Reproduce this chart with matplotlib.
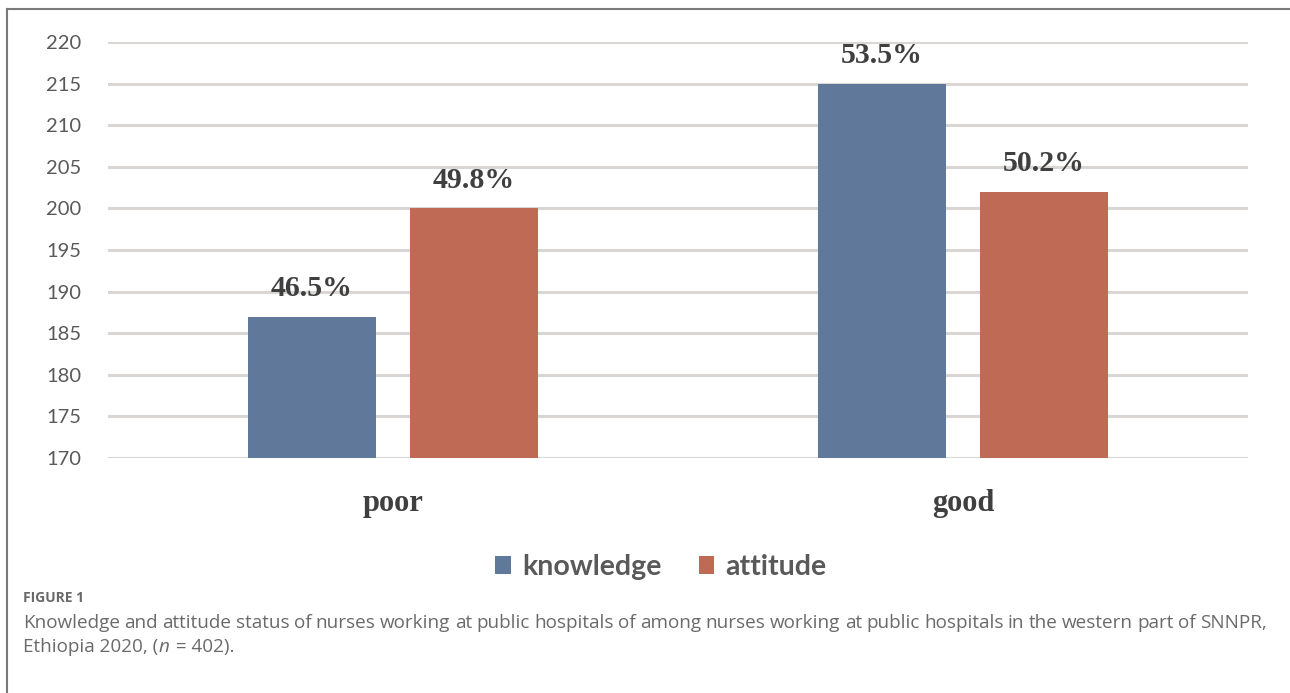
import matplotlib
matplotlib.use("Agg")
import matplotlib.pyplot as plt
from matplotlib.lines import Line2D
import numpy as np

categories = ["poor", "good"]
series_names = ["knowledge", "attitude"]
knowledge = [187, 215]
attitude = [200, 202]
knowledge_pct = ["46.5%", "53.5%"]
attitude_pct = ["49.8%", "50.2%"]
yticks = [170, 175, 180, 185, 190, 195, 200, 205, 210, 215, 220]

blue = "#60789A"
red = "#BE6A55"
grid_c = "#DAD6D3"
tick_c = "#595959"
lab_c = "#3F3F3F"

fig = plt.figure(figsize=(12.9, 6.93), dpi=100)
W, H = 1290, 693
ax = fig.add_axes([108 / W, 1 - 458 / H, 1140 / W, 416 / H])

x = np.arange(len(categories))
bw = 0.225
off = 0.142
ax.set_axisbelow(True)
b1 = ax.bar(x - off, [k - 170 for k in knowledge], bw, bottom=170, color=blue, label=series_names[0], zorder=3)
b2 = ax.bar(x + off, [a - 170 for a in attitude], bw, bottom=170, color=red, label=series_names[1], zorder=3)

ax.set_xlim(-0.5, 1.5)
ax.set_ylim(170, 220)
ax.set_yticks(yticks)
ax.yaxis.grid(True, color=grid_c, linewidth=2.2)
for s in ax.spines.values():
    s.set_visible(False)
ax.tick_params(axis="y", length=0, pad=19, labelsize=14.5, labelcolor=tick_c)
for t in ax.get_yticklabels():
    t.set_fontfamily("Lato")
ax.set_xticks(x)
ax.set_xticklabels(categories, fontfamily="Liberation Serif", fontweight="bold", fontsize=22, color=lab_c)
ax.tick_params(axis="x", length=0, pad=22)

for xs, vals, labs in [(x - off, knowledge, knowledge_pct), (x + off, attitude, attitude_pct)]:
    for xi, v, l in zip(xs, vals, labs):
        ax.annotate(l, (xi, v), xytext=(0, 28), textcoords="offset pixels", ha="center", va="center",
                    fontfamily="Liberation Serif", fontweight="bold", fontsize=21.5, color=lab_c, zorder=4)

leg = fig.legend(handles=[b1, b2], labels=series_names, loc="center", bbox_to_anchor=(661 / W, 1 - 567 / H),
                 ncol=2, frameon=False, handlelength=0.55, handleheight=0.55, handletextpad=0.4, columnspacing=1.3,
                 prop={"family": "Lato", "size": 20.5, "weight": "bold"})
for t in leg.get_texts():
    t.set_color(tick_c)

# border
fig.add_artist(Line2D([6.5 / W, 6.5 / W], [0, 1 - 9 / H], color="#7A7A7A", linewidth=1.5, transform=fig.transFigure))
fig.add_artist(Line2D([6.5 / W, 1], [1 - 9 / H, 1 - 9 / H], color="#7A7A7A", linewidth=1.5, transform=fig.transFigure))

cap_c = "#6A6A6A"
fig.text(23 / W, 1 - 598 / H, "FIGURE 1", fontfamily="Open Sans", fontweight="bold", fontsize=10, color=cap_c,
         va="center", ha="left")

cap_fs = 13.6
line1 = "Knowledge and attitude status of nurses working at public hospitals of among nurses working at public hospitals in the western part of SNNPR,"
words = line1.split(" ")
fig.canvas.draw()
renderer = fig.canvas.get_renderer()
txts = []
widths = []
for w in words:
    t = fig.text(0, 1 - 623 / H, w, fontfamily="Open Sans", fontsize=cap_fs, color=cap_c, va="center", ha="left")
    bb = t.get_window_extent(renderer=renderer)
    txts.append(t)
    widths.append(bb.width)
left, right = 23, 1267
gap = (right - left - sum(widths)) / (len(words) - 1)
pos = left
for t, wdt in zip(txts, widths):
    t.set_x(pos / W)
    pos += wdt + gap

parts = [("Ethiopia 2020, (", "normal"), ("n", "italic"), (" = 402).", "normal")]
pos = 23
for s, style in parts:
    t = fig.text(pos / W, 1 - 647 / H, s, fontfamily="Open Sans", fontsize=cap_fs, color=cap_c, va="center",
                 ha="left", style=style)
    pos += t.get_window_extent(renderer=renderer).width + (2 if style == "italic" else 0)

fig.savefig("out.png", dpi=100)
